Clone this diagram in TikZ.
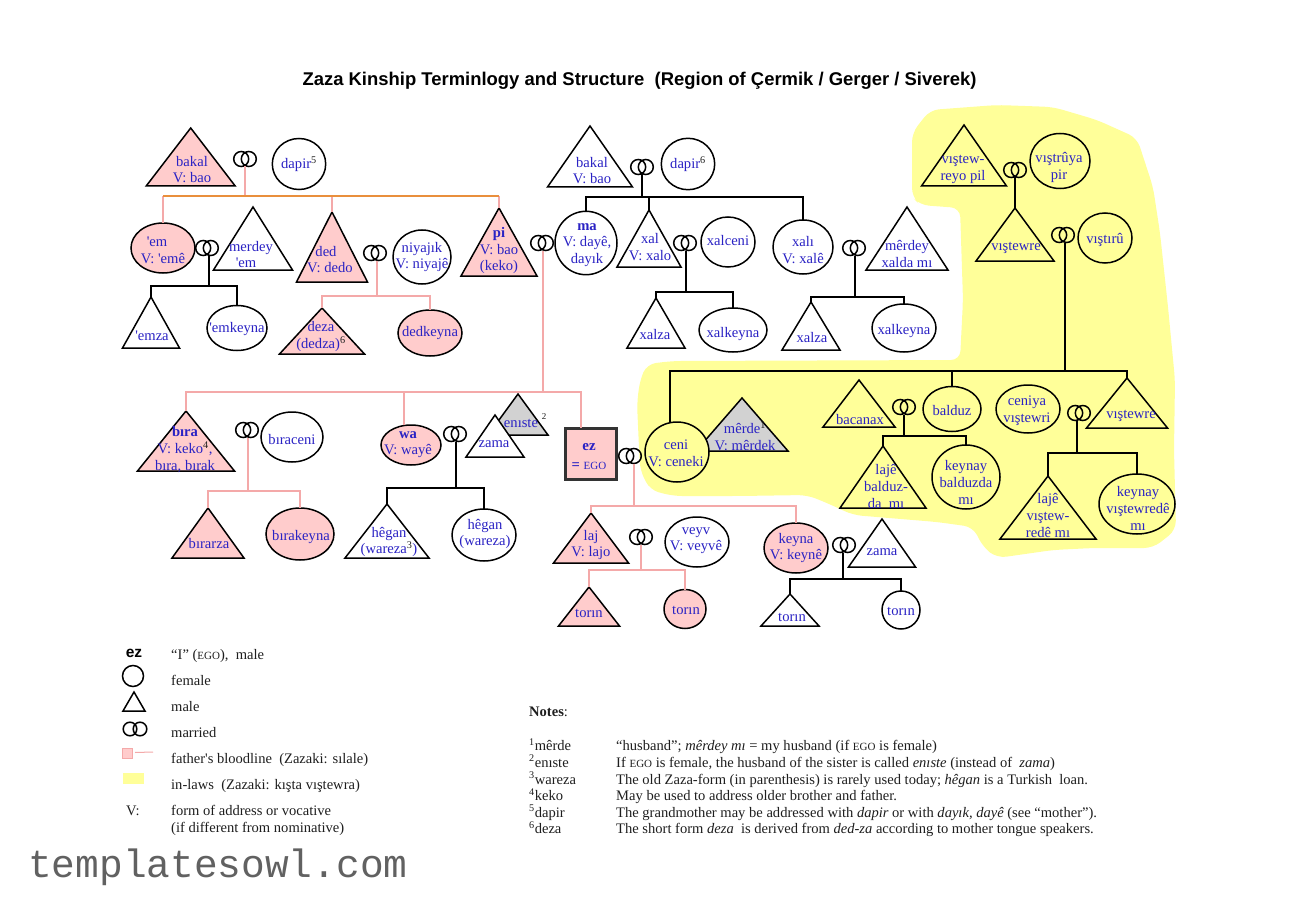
\documentclass[tikz,border=0pt]{standalone}
\usepackage{fontspec}
\setmainfont{Liberation Serif}[Ligatures=TeXOff]
\newfontfamily\arialf{Liberation Sans}
\newfontfamily\monof{Liberation Mono}
\usetikzlibrary{shapes.geometric}
\definecolor{kinblue}{HTML}{2A22C4}
\definecolor{kinpink}{HTML}{FFCCCC}
\definecolor{kinline}{HTML}{F4A9A9}
\definecolor{kinorange}{HTML}{E98F3C}
\definecolor{kinyellow}{HTML}{FFFF99}
\definecolor{kingray}{HTML}{D2D2D2}
\definecolor{kintext}{HTML}{1E1E1E}
\tikzset{
 kinshape/.style={draw=black,line width=1.5pt,line join=miter},
 pk/.style={fill=kinpink},
 wh/.style={fill=white},
 yl/.style={fill=kinyellow},
 gr/.style={fill=kingray},
 bl/.style={draw=black,line width=1.4pt},
 pl/.style={draw=kinline,line width=1.5pt},
 ol/.style={draw=kinorange,line width=1.6pt},
 lab/.style={inner sep=0pt,align=center,text=kinblue,font=\fontsize{14.6}{16.7}\selectfont},
 row/.style={inner sep=0pt,anchor=base west,yshift=-1pt,text=kintext,font=\fontsize{14.55}{16}\selectfont},
}
\newcommand\trishape[6]{\path[kinshape,#6] (#2,#3) -- ({#2-#4},#5) -- ({#2+#4},#5) -- cycle; \coordinate (#1) at (#2,#3);}
\newcommand\kell[6]{\node[kinshape,ellipse,inner sep=0pt,outer sep=0pt,minimum width={2*#4},minimum height={2*#5},#6] (#1) at (#2,#3) {};}
\newcommand\ringmark[3]{\draw[black,line width=1.5pt] (#2-3.8,#3) circle[radius=7.5] (#2+3.8,#3) circle[radius=7.5]; \coordinate (#1) at (#2,#3+7.5);}
\newcommand\lab[4]{\node[lab] (#1) at (#2,#3) {#4};}
\newcommand\sps[1]{{\color{kintext}\textsuperscript{#1}}}
\newcommand\ap{'}
\begin{document}
\begin{tikzpicture}[x=1pt,y=-1pt]
\useasboundingbox (0,0) rectangle (1290,912);
\fill[white] (0,0) rectangle (1290,912);
% in-laws region
\fill[kinyellow,rounded corners=9pt] (930,110) -- (997,105) -- (1053,107) -- (1097,120) -- (1137,138) -- (1153,187) -- (1160,233) -- (1168,307) -- (1175,380) -- (1174,450) -- (1176,530) -- (1153,548) -- (1093,548) -- (1053,550) -- (997,558) -- (983,547) -- (973,527) -- (937,522) -- (853,515) -- (827,503) -- (807,495) -- (740,496) -- (673,496) -- (650,490) -- (640,470) -- (637,403) -- (640,380) -- (647,364) -- (673,361) -- (960,360) -- (963,300) -- (960,208) -- (920,205) -- (912,197) -- (912,133) -- cycle;
% title
\node[inner sep=0pt,font=\arialf\bfseries\fontsize{18.44}{20}\selectfont] (title) at (639.5,80.5) {Zaza Kinship Terminlogy and Structure\ \ (Region of Çermik / Gerger / Siverek)};
% --- father's parents
\trishape{bakA}{190.7}{128}{44.5}{186}{pk}
\lab{bakAt}{192}{169.5}{bakal\\V: bao}
\ringmark{rA}{245}{159}
\kell{dapA}{299}{164}{26.7}{25.5}{wh}
\lab{dapAt}{299}{164}{dapir\sps{5}}
% --- father's generation
\kell{em}{163}{248}{32}{25}{pk}
\lab{emt}{163}{250.5}{\hspace*{-12pt}\ap em\\V: \ap emê}
\ringmark{rEm}{207}{248}
\trishape{mer}{253}{207}{39.5}{270}{wh}
\lab{mert}{251}{254.5}{merdey\\\hspace*{-10pt}\ap em}
\trishape{ded}{332}{212}{35.5}{282}{pk}
\lab{dedt}{330}{259.5}{\hspace*{-8pt}ded\\V: dedo}
\ringmark{rDed}{375}{253}
\kell{niy}{422}{257}{29}{27}{wh}
\lab{niyt}{422}{257}{niyajık\\V: niyajê}
\trishape{pi}{499}{208}{38}{276}{pk}
\lab{pit}{499}{250.5}{\textbf{pi}\\V: bao\\(keko)}
\ringmark{rPi}{542}{243}
% cousins
\trishape{emza}{151}{297}{28.5}{348}{wh}
\lab{emzat}{152}{336}{\ap emza}
\kell{emk}{237}{328}{30}{22.5}{wh}
\lab{emkt}{237}{329.5}{\ap emkeyna}
\trishape{deza}{322}{308}{42.5}{354}{pk}
\lab{dezat}{321}{336.5}{deza\\(dedza)\sps{6}}
\kell{dedk}{430}{333}{32}{23}{pk}
\lab{dedkt}{430}{333.5}{dedkeyna}
% --- mother's parents
\trishape{bakB}{590}{126}{42.5}{187}{wh}
\lab{bakBt}{592}{170.5}{bakal\\V: bao}
\ringmark{rB}{642}{167}
\kell{dapB}{688}{164}{26.7}{25.7}{wh}
\lab{dapBt}{688}{164}{dapir\sps{6}}
\kell{ma}{586}{243}{31}{31.7}{wh}
\lab{mat}{587}{245}{\textbf{ma}\\V: dayê,\\dayık}
\trishape{xal}{649}{210}{32}{267}{wh}
\lab{xalt}{650}{247}{xal\\V: xalo}
\ringmark{rXal}{685}{243}
\kell{xalc}{728}{242}{27}{25}{wh}
\lab{xalct}{728}{240.5}{xalceni}
\kell{xali}{803}{247}{30}{27}{wh}
\lab{xalit}{803}{250}{xalı\\V: xalê}
\ringmark{rXali}{854}{248}
\trishape{merx}{907}{207}{41}{270}{wh}
\lab{merxt}{907}{254}{mêrdey\\xalda mı}
\trishape{xzA}{656}{298}{29}{348}{wh}
\lab{xzAt}{655}{334.5}{xalza}
\kell{xkA}{733}{330}{34}{22}{wh}
\lab{xkAt}{733}{334.5}{xalkeyna}
\trishape{xzB}{811}{302}{29}{350}{wh}
\lab{xzBt}{812}{337.5}{xalza}
\kell{xkB}{904}{328}{32}{24}{wh}
\lab{xkBt}{904}{331.5}{xalkeyna}
% --- in-laws top
\trishape{vpil}{964}{125}{42.5}{186}{yl}
\lab{vpilt}{963}{169.5}{vıştew-\\reyo pil}
\ringmark{rV}{1015}{170}
\kell{vpir}{1060}{161}{30}{27.5}{yl}
\lab{vpirt}{1059}{167.5}{vıştrûya\\pir}
\trishape{vsw}{1015}{208}{39}{261}{yl}
\lab{vswt}{1016}{247.5}{vıştewre}
\ringmark{rVs}{1063}{235}
\kell{vru}{1105}{238}{27}{25}{yl}
\lab{vrut}{1105}{239.5}{vıştırû}
% --- in-laws row
\trishape{merde}{742}{398}{46}{451}{gr}
\kell{ceni}{677}{452}{32}{30}{yl}
\lab{cenit}{676}{453.5}{ceni\\V: ceneki}
\lab{merdet}{745}{436}{mêrde\sps{1}\\V: mêrdek}
\trishape{bac}{859}{380}{36}{427}{yl}
\lab{bact}{860}{419.5}{bacanax}
\ringmark{rBac}{904}{407}
\kell{bal}{952}{409}{29}{22.5}{yl}
\lab{balt}{952}{410.5}{balduz}
\trishape{laja}{883}{446}{43}{508}{yl}
\lab{lajat}{886}{486.5}{lajê\\balduz-\\da\ \ mı}
\kell{keya}{966}{477}{34}{32}{yl}
\lab{keyat}{966}{482.5}{keynay\\balduzda\\mı}
\kell{cvs}{1028}{409}{32}{24}{yl}
\lab{cvst}{1027}{410.5}{ceniya\\vıştewri}
\ringmark{rCv}{1079}{413}
\trishape{vswb}{1127}{378}{40.5}{428}{yl}
\lab{vswbt}{1131}{415.5}{vıştewre}
\trishape{lajb}{1048}{476}{48}{539}{yl}
\lab{lajbt}{1048}{515.5}{lajê\\vıştew-\\redê mı}
\kell{keyb}{1137}{504}{38}{30}{yl}
\lab{keybt}{1138}{508.5}{keynay\\vıştewredê\\mı}
% --- ego generation
\trishape{bira}{186}{411}{48.5}{471}{pk}
\lab{birat}{185}{449.5}{\textbf{bıra}\\V: keko\sps{4},\\bıra, bırak}
\ringmark{rBi}{247}{430}
\kell{bic}{292}{437}{31}{25}{wh}
\lab{bict}{292}{439.5}{bıraceni}
\trishape{birz}{208}{508}{36}{558}{pk}
\lab{birzt}{209}{543.5}{bırarza}
\kell{birk}{300}{534}{34}{26}{pk}
\lab{birkt}{301}{537.5}{bırakeyna}
\kell{wa}{411}{445}{30}{20}{pk}
\lab{wat}{408}{444.5}{\textbf{wa}\\V: wayê}
\ringmark{rWa}{455}{434}
\trishape{en}{518}{394}{30}{435}{gr}
\lab{ent}{521}{423.5}{enıste}
\node[lab,text=kintext,font=\fontsize{9}{10}\selectfont] (ens) at (544,417) {2};
\trishape{zam}{495}{415}{29}{457}{wh}
\lab{zamt}{494}{444.5}{zama}
\trishape{heg}{387}{504}{42}{558}{wh}
\lab{hegt}{389}{542}{hêgan\\(wareza\sps{3})}
\kell{hegw}{484}{535}{32}{26}{wh}
\lab{hegwt}{485}{534}{hêgan\\(wareza)}
\node[kinshape,draw=black!80,line width=3pt,fill=kinpink,minimum width=51pt,minimum height=51pt,inner sep=0pt,outer sep=0pt] (ez) at (590.5,453.5) {};
\lab{ezt}{589}{456.5}{\textbf{\fontsize{15}{17}\selectfont ez}\\[3pt]\textbf{=}\ {\fontsize{11}{13}\selectfont EGO}}
\ringmark{rEz}{630}{456}
\trishape{laj}{591}{513}{37.5}{563}{pk}
\lab{lajt}{591}{545}{laj\\V: lajo}
\ringmark{rLaj}{641}{537}
\kell{vey}{697}{542}{32}{25}{wh}
\lab{veyt}{696}{540.5}{veyv\\V: veyvê}
\trishape{tor}{589}{587}{30.5}{626}{pk}
\lab{tort}{589}{613.5}{torın}
\kell{torp}{685}{609}{21}{19.5}{pk}
\lab{torpt}{686}{610.5}{torın}
\kell{key}{796}{548}{32}{25}{pk}
\lab{keyt}{796}{548}{keyna\\V: keynê}
\ringmark{rKey}{844}{545}
\trishape{zamb}{882}{519}{33.5}{567}{wh}
\lab{zambt}{882}{552.5}{zama}
\trishape{tora}{790}{594}{29}{626}{wh}
\lab{torat}{792}{617.5}{torın}
\kell{torb}{901}{610}{19}{19}{wh}
\lab{torbt}{901}{611.5}{torın}
% --- connectors
\coordinate (jA) at (245,196);
\draw[pl] (rA) -- (jA);
\draw[pl] (em.north) -- (em.north |- jA);
\draw[pl] (ded) -- (ded |- jA);
\draw[pl] (pi) -- (pi |- jA);
\draw[ol] (em.north |- jA) -- (pi |- jA);
\coordinate (jEm) at (209,286);
\draw[bl] (jEm |- rEm) -- (jEm);
\draw[bl] (emza) |- (jEm) -| (emk.north);
\coordinate (jDed) at (377,296);
\draw[pl] (jDed |- rDed) -- (jDed);
\draw[pl] (deza) |- (jDed) -| (dedk.north);
\coordinate (jB) at (642,197);
\draw[bl] (rB) -- (jB);
\draw[bl] (ma.north) |- (jB) -| (xali.north);
\draw[bl] (xal) -- (xal |- jB);
\coordinate (jXal) at (686,292);
\draw[bl] (jXal |- rXal) -- (jXal);
\draw[bl] (xzA) |- (jXal) -| (xkA.north);
\coordinate (jXali) at (855,297);
\draw[bl] (jXali |- rXali) -- (jXali);
\draw[bl] (xzB) |- (jXali) -| (xkB.north);
\draw[bl] (rV) -- (vsw);
\coordinate (jVs) at (1065,371);
\draw[bl] (jVs |- rVs) -- (jVs);
\draw[bl] ([xshift=-7pt]ceni.north) |- (jVs) -| (vswb);
\draw[bl] (bal.north) -- (bal.north |- jVs);
\coordinate (jBac) at (904,436);
\draw[bl] (rBac) -- (jBac);
\draw[bl] (laja) |- (jBac) -| (keya.north);
\coordinate (jCv) at (1077,453);
\draw[bl] (jCv |- rCv) -- (jCv);
\draw[bl] (lajb) |- (jCv) -| (keyb.north);
\coordinate (jPi) at (543,392);
\draw[pl] (jPi |- rPi) -- (jPi);
\draw[pl] (bira) |- (jPi) -| ([xshift=-9.5pt]ez.north);
\draw[pl] ([xshift=-7pt]wa.north) -- ([xshift=-7pt]wa.north |- jPi);
\coordinate (jBi) at (248,491);
\draw[pl] (jBi |- rBi) -- (jBi);
\draw[pl] (birz) |- (jBi) -| (birk.north);
\coordinate (jWa) at (456,488);
\draw[bl] (jWa |- rWa) -- (jWa);
\draw[bl] (heg) |- (jWa) -| (hegw.north);
\coordinate (jEz) at (634,506);
\draw[pl] (jEz |- rEz) -- (jEz);
\draw[pl] (laj) |- (jEz) -| (key.north);
\coordinate (jLaj) at (641,570);
\draw[pl] (rLaj) -- (jLaj);
\draw[pl] (tor) |- (jLaj) -| (torp.north);
\coordinate (jKey) at (843,579);
\draw[bl] (jKey |- rKey) -- (jKey);
\draw[bl] (tora) |- (jKey) -| (torb.north);
% --- legend
\node[inner sep=0pt,font=\arialf\bfseries\fontsize{15.5}{18}\selectfont] (lgez) at (134,653) {ez};
\node[row] (lg1) at (171,658) {“I” ({\fontsize{11}{12}\selectfont EGO}),\ \ male};
\node[kinshape,circle,fill=white,minimum size=21pt,inner sep=0pt,outer sep=0pt] (lgc) at (133,676) {};
\node[row] (lg2) at (171,684.5) {female};
\trishape{lgt}{134}{692}{11}{711}{wh}
\node[row] (lg3) at (171,710.5) {male};
\draw[black,line width=1.5pt] (130,729) circle[radius=6.8] (140,729) circle[radius=6.8];
\coordinate (lgr) at (135,729);
\node[row] (lg4) at (171,736.5) {married};
\node[draw=kinline,line width=1pt,fill=kinpink,minimum width=10.5pt,minimum height=10pt,inner sep=0pt,outer sep=0pt] (lgp) at (127.5,753) {};
\coordinate (lgpe) at (153,752);
\draw[draw=kinline,line width=1pt] (135,752.5) -- (lgpe);
\node[row] (lg5) at (171,762.5) {father\ap s bloodline\ \ (Zazaki: sılale)};
\node[fill=kinyellow,minimum width=21pt,minimum height=11pt,inner sep=0pt,outer sep=0pt] (lgy) at (133.5,778.5) {};
\node[row] (lg6) at (171,788.5) {in-laws\ \ (Zazaki: kışta vıştewra)};
\node[row] (lgv) at (126,814.5) {V:};
\node[row] (lg7) at (171,814.5) {form of address or vocative};
\node[row] (lg8) at (171,831.5) {(if different from nominative)};
% --- notes
\node[row] (ntitle) at (529,715.5) {\textbf{Notes}:};
\node[row] (n1a) at (529,749.5) {\textsuperscript{1}mêrde};
\node[row] (n1b) at (616,749.5) {“husband”; \textit{mêrdey mı} = my husband (if {\fontsize{11}{12}\selectfont EGO} is female)};
\node[row] (n2a) at (529,766) {\textsuperscript{2}enıste};
\node[row] (n2b) at (616,766) {If {\fontsize{11}{12}\selectfont EGO} is female, the husband of the sister is called \textit{enıste} (instead of\ \ \textit{zama})};
\node[row] (n3a) at (529,783) {\textsuperscript{3}wareza};
\node[row] (n3b) at (616,783) {The old Zaza-form (in parenthesis) is rarely used today; \textit{hêgan} is a Turkish\ \ loan.};
\node[row] (n4a) at (529,799.5) {\textsuperscript{4}keko};
\node[row] (n4b) at (616,799.5) {May be used to address older brother and father.};
\node[row] (n5a) at (529,816) {\textsuperscript{5}dapir};
\node[row] (n5b) at (616,816) {The grandmother may be addressed with \textit{dapir} or with \textit{dayık, dayê} (see “mother”).};
\node[row] (n6a) at (529,832.5) {\textsuperscript{6}deza};
\node[row] (n6b) at (616,832.5) {The short form \textit{deza}\ \ is derived from \textit{ded-za} according to mother tongue speakers.};
% watermark
\node[inner sep=0pt,anchor=base west,text=black!62,font=\monof\fontsize{39.5}{42}\selectfont] (wm) at (28,877) {templatesowl.com};
\end{tikzpicture}
\end{document}
